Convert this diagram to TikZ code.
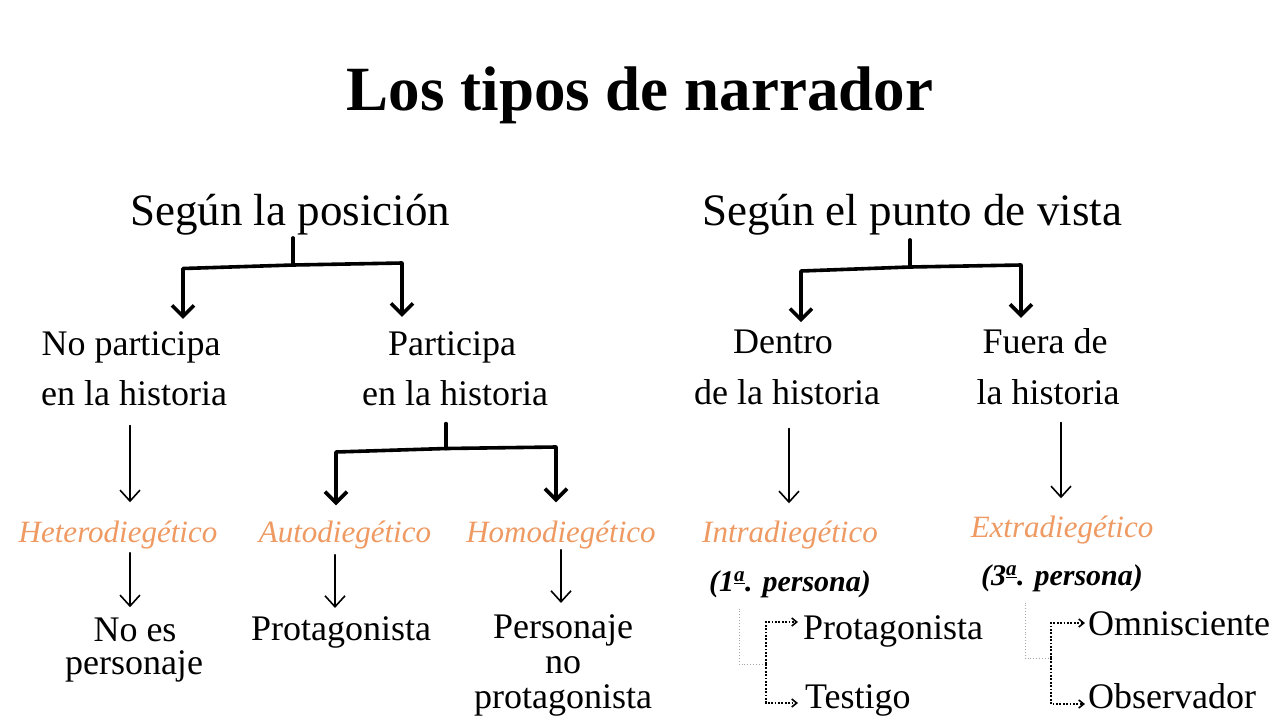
\documentclass[tikz,border=0pt]{standalone}
\usepackage{fontspec}
\setmainfont{Liberation Serif}
\usetikzlibrary{arrows.meta,calc}
\definecolor{orng}{HTML}{EE9A62}
\begin{document}
\begin{tikzpicture}[x=1pt,y=-1pt,
  txt/.style={inner sep=0pt,anchor=base,font=\fontsize{36}{36}\selectfont},
  txtw/.style={inner sep=0pt,anchor=base west,font=\fontsize{36}{36}\selectfont},
  ital/.style={inner sep=0pt,anchor=base,text=orng,font=\fontsize{31}{31}\selectfont\itshape},
  persn/.style={inner sep=0pt,anchor=base,font=\fontsize{30}{30}\selectfont\bfseries\itshape},
  head/.style={inner sep=0pt,anchor=base,font=\fontsize{45}{45}\selectfont},
  ttl/.style={inner sep=0pt,anchor=base,font=\fontsize{63}{63}\selectfont\bfseries},
  brk/.style={line width=3.6pt,line join=round,line cap=round},
  brkarr/.style={brk,-{Straight Barb[length=11pt,width=22pt]}},
  thinarr/.style={line width=1.6pt,line cap=round,-{Straight Barb[length=11pt,width=20pt]}},
  graydot/.style={line width=0.9pt,draw=black!35,dotted},
  blkdot/.style={line width=1.6pt,dash pattern=on 1.8pt off 1.6pt,-{Straight Barb[length=5pt,width=8pt]}},
]
\useasboundingbox (0,0) rectangle (1280,721);
\fill[white] (0,0) rectangle (1280,721);

% title and headings
\node[ttl] (title) at (640,110) {Los tipos de narrador};
\node[head] (pos) at (290,225) {Según la posición};
\node[head] (vis) at (912,225) {Según el punto de vista};

% second level
\node[txt] (np1) at (131,355) {No participa};
\node[txt] (np2) at (134,405) {en la historia};
\node[txt] (p1) at (452,355) {Participa};
\node[txt] (p2) at (455,405) {en la historia};
\node[txt] (d1) at (783,353) {Dentro};
\node[txt] (d2) at (787,404) {de la historia};
\node[txt] (f1) at (1045,353) {Fuera de};
\node[txt] (f2) at (1048,404) {la historia};

% narrator types
\node[ital] (het) at (118,542) {Heterodiegético};
\node[ital] (aut) at (345,542) {Autodiegético};
\node[ital] (hom) at (561,542) {Homodiegético};
\node[ital] (int) at (790,542) {Intradiegético};
\node[ital] (ext) at (1062,537) {Extradiegético};

\node[persn] (pa) at (790,591) {(1\textsuperscript{\underline{a}}. persona)};
\node[persn] (pb) at (1062,585) {(3\textsuperscript{\underline{a}}. persona)};

% bottom level
\node[txt] (ne1) at (135,641) {No es};
\node[txt] (ne2) at (134,674) {personaje};
\node[txt] (pro) at (341,640) {Protagonista};
\node[txt] (pe1) at (563,638) {Personaje};
\node[txt] (pe2) at (563,673) {no};
\node[txt] (pe3) at (563,708) {protagonista};
\node[txtw] (pr2) at (803,639) {Protagonista};
\node[txtw] (tes) at (805,708) {Testigo};
\node[txtw] (omn) at (1088,635) {Omnisciente};
\node[txtw] (obs) at (1088,708) {Observador};

% junction coordinates
\coordinate (LJ) at (293,265);
\coordinate (LL) at (183,268.5);
\coordinate (LR) at (402,263);
\coordinate (MJ) at (446,448.5);
\coordinate (ML) at (336,452);
\coordinate (MR) at (556,447);
\coordinate (RJ) at (910,267);
\coordinate (RL) at (801,271);
\coordinate (RR) at (1021,265);
\coordinate (B1) at (766,664);
\coordinate (B1t) at (766,622);
\coordinate (B1b) at (766,703);
\coordinate (C1) at (1051,658);
\coordinate (C1t) at (1051,623);
\coordinate (C1b) at (1051,704);

% left bracket
\draw[brk,shorten <=3pt] (LJ |- pos.south) -- (LJ);
\draw[brkarr,shorten >=12pt] (LJ) -- (LL) -- (LL |- np1.north);
\draw[brkarr,shorten >=14pt] (LJ) -- (LR) -- (LR |- p1.north);

% middle bracket
\draw[brk,shorten <=18pt] (MJ |- p2.south) -- (MJ);
\draw[brkarr,shorten >=15pt] (MJ) -- (ML) -- (ML |- aut.north);
\draw[brkarr,shorten >=18pt] (MJ) -- (MR) -- (MR |- hom.north);

% right bracket
\draw[brk,shorten <=5pt] (RJ |- vis.south) -- (RJ);
\draw[brkarr,shorten >=7pt] (RJ) -- (RL) -- (RL |- d1.north);
\draw[brkarr,shorten >=10pt] (RJ) -- (RR) -- (RR |- f1.north);

% thin arrows
\draw[thinarr,shorten <=20pt,shorten >=18pt] ([xshift=-4pt]np2.south) -- ([xshift=12pt]het.north);
\draw[thinarr,shorten <=4pt,shorten >=10pt] ([xshift=12pt]het.south) -- ([xshift=-5pt]ne1.north);
\draw[thinarr,shorten <=6pt,shorten >=8pt] ([xshift=-10pt]aut.south) -- ([xshift=-6pt]pro.north);
\draw[thinarr,shorten <=1pt,shorten >=11pt] (hom.south) -- ([xshift=-2pt]pe1.north);
\draw[thinarr,shorten <=24pt,shorten >=17pt] ([xshift=2pt]d2.south) -- ([xshift=-1pt]int.north);
\draw[thinarr,shorten <=18pt,shorten >=17pt] ([xshift=13pt]f2.south) -- ([xshift=-1pt]ext.north);

% dotted sub-branches, first person
\draw[graydot,shorten <=11pt] ([xshift=-51pt]pa.south) |- (B1);
\draw[blkdot,shorten >=5pt] (B1) -- (B1t) -- (B1t -| pr2.west);
\draw[blkdot,shorten >=7pt] (B1) -- (B1b) -- (B1b -| tes.west);

% dotted sub-branches, third person
\draw[graydot,shorten <=11pt] ([xshift=-37pt]pb.south) |- (C1);
\draw[blkdot,shorten >=3pt] (C1) -- (C1t) -- (C1t -| omn.west);
\draw[blkdot,shorten >=3pt] (C1) -- (C1b) -- (C1b -| obs.west);
\end{tikzpicture}
\end{document}
